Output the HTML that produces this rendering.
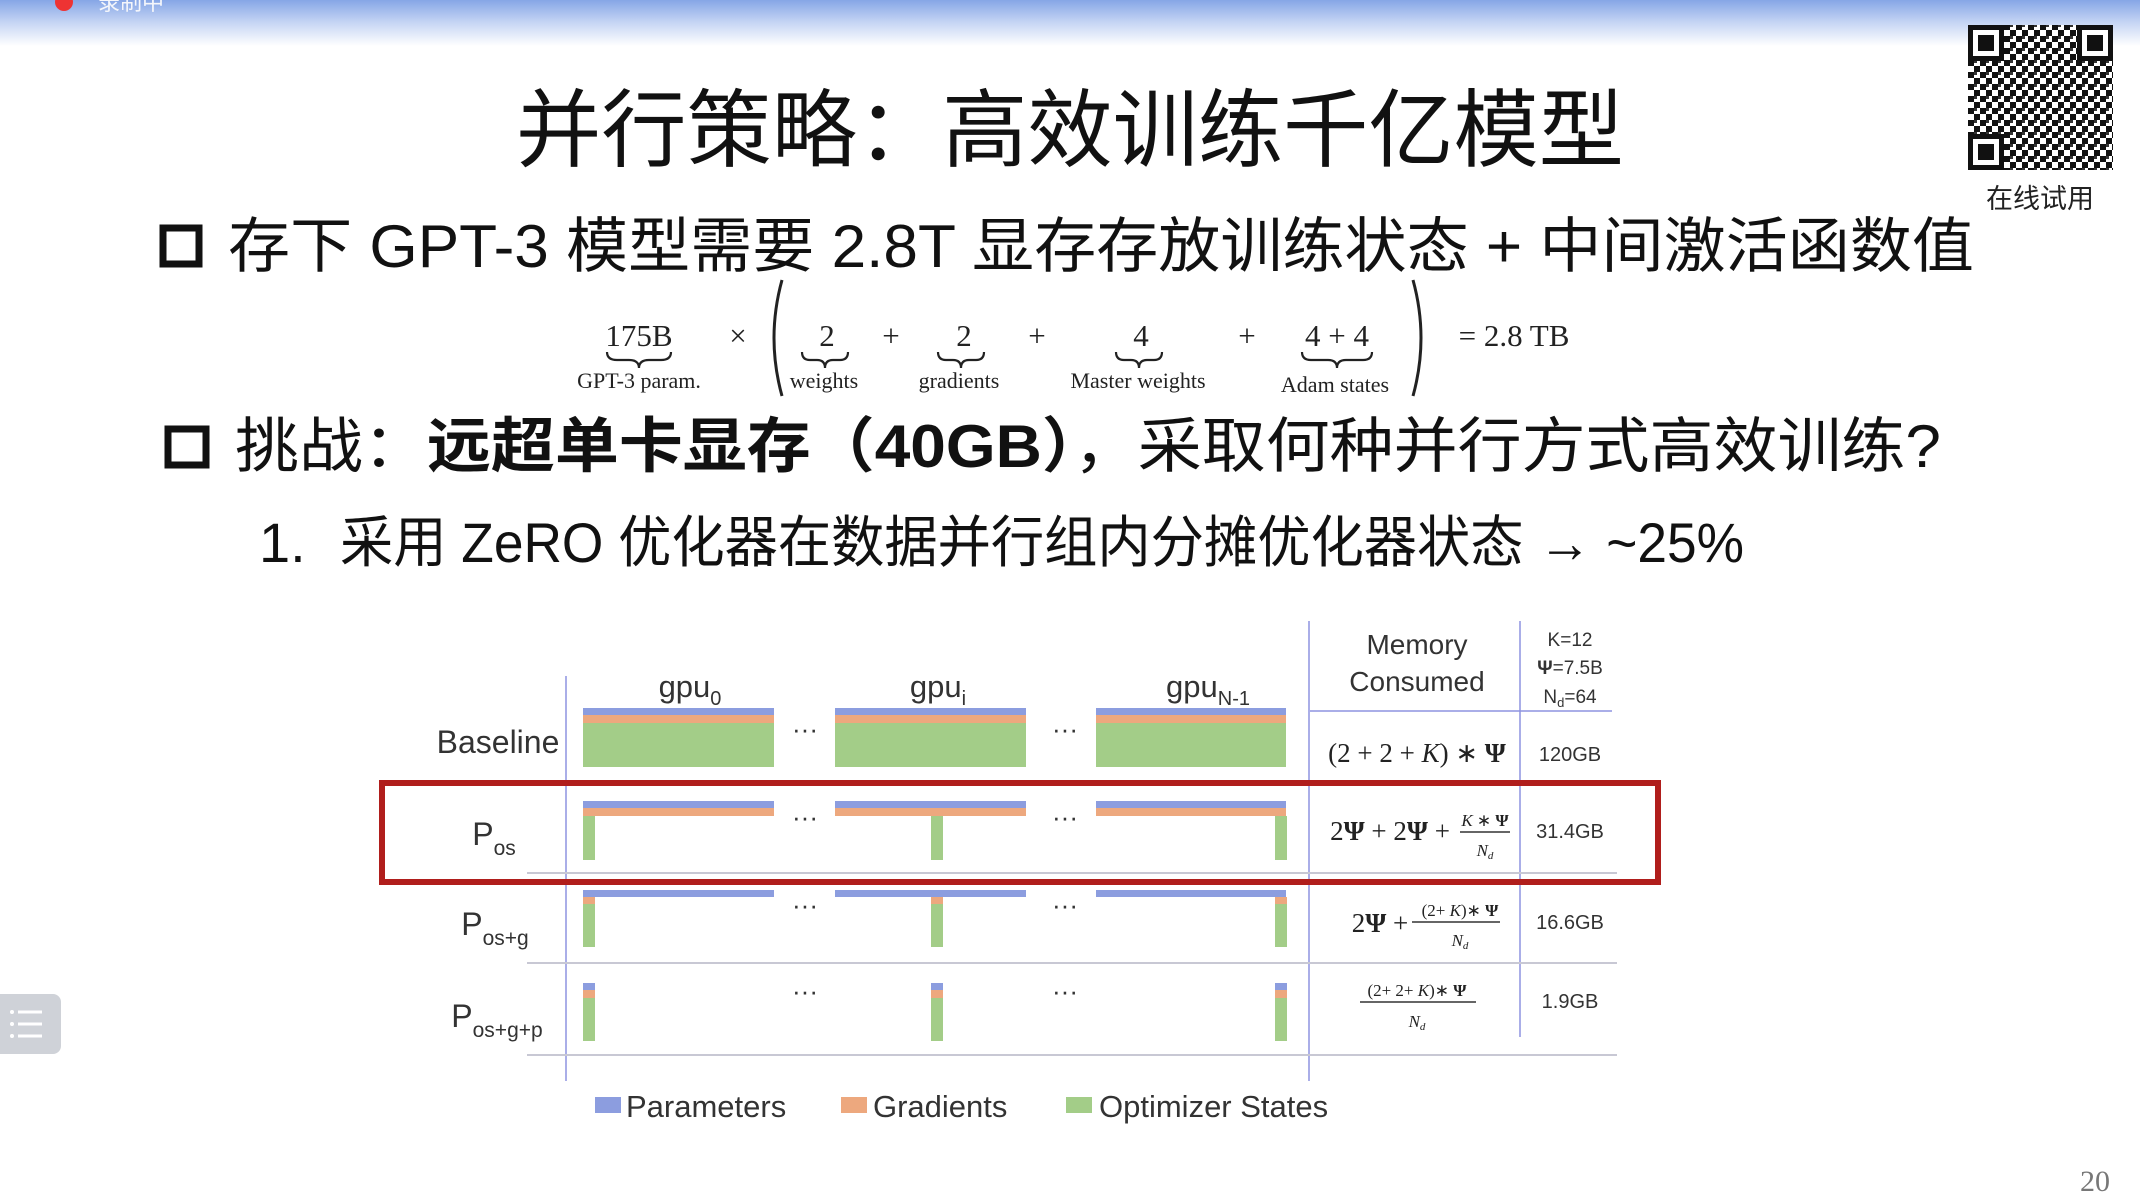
<!DOCTYPE html>
<html><head><meta charset="utf-8"><style>
html,body{margin:0;padding:0;background:#fff;width:2140px;height:1198px;overflow:hidden}
svg{display:block}
.cjk{font-family:"Liberation Sans","Noto Sans CJK SC",sans-serif;fill:#111}
.sf{font-family:"Liberation Serif",serif;fill:#222}
.ss{font-family:"Liberation Sans",sans-serif;fill:#333}
</style></head><body>
<svg width="2140" height="1198" viewBox="0 0 2140 1198" xmlns="http://www.w3.org/2000/svg">
<defs>
<linearGradient id="tb" x1="0" y1="0" x2="0" y2="1">
<stop offset="0" stop-color="#86a6e6"/><stop offset="0.5" stop-color="#c7d6f4"/><stop offset="1" stop-color="#ffffff"/>
</linearGradient>
<pattern id="qr" width="12" height="12" patternUnits="userSpaceOnUse">
<rect width="12" height="12" fill="#fff"/><rect x="0" y="0" width="6" height="6" fill="#111"/><rect x="6" y="6" width="6" height="6" fill="#111"/><rect x="6" y="0" width="3" height="3" fill="#333"/>
</pattern>
</defs>
<rect x="0" y="0" width="2140" height="46" fill="url(#tb)"/>
<circle cx="64" cy="2" r="9" fill="#e33"/>
<text x="98" y="10" class="cjk" font-size="22" style="fill:#f4f6fb">录制中</text>

<rect x="1968" y="25" width="145" height="145" fill="url(#qr)"/>
<g fill="#111">
<rect x="1968" y="25" width="36" height="36"/><rect x="2077" y="25" width="36" height="36"/><rect x="1968" y="134" width="36" height="36"/>
</g>
<g fill="#fff"><rect x="1973" y="30" width="26" height="26"/><rect x="2082" y="30" width="26" height="26"/><rect x="1973" y="139" width="26" height="26"/></g>
<g fill="#111"><rect x="1978" y="35" width="16" height="16"/><rect x="2087" y="35" width="16" height="16"/><rect x="1978" y="144" width="16" height="16"/></g>
<text x="2040" y="208" text-anchor="middle" class="cjk" font-size="27" style="fill:#222">在线试用</text>

<text x="516" y="160" class="cjk" font-size="85" textLength="1108" lengthAdjust="spacingAndGlyphs">并行策略：高效训练千亿模型</text>

<rect x="163" y="228" width="36" height="36" fill="none" stroke="#111" stroke-width="7"/>
<text x="228" y="267" class="cjk" font-size="60" textLength="1746" lengthAdjust="spacingAndGlyphs">存下 GPT-3 模型需要 2.8T 显存存放训练状态 + 中间激活函数值</text>

<g class="sf" font-size="31" text-anchor="middle">
<text x="639" y="346">175B</text>
<text x="738" y="346">×</text>
<text x="827" y="346">2</text>
<text x="891" y="346">+</text>
<text x="964" y="346">2</text>
<text x="1037" y="346">+</text>
<text x="1141" y="346">4</text>
<text x="1247" y="346">+</text>
<text x="1337" y="346">4 + 4</text>
<text x="1514" y="346">= 2.8 TB</text>
</g>
<g class="sf" font-size="22" text-anchor="middle">
<text x="639" y="388">GPT-3 param.</text>
<text x="824" y="388">weights</text>
<text x="959" y="388">gradients</text>
<text x="1138" y="388">Master weights</text>
<text x="1335" y="392">Adam states</text>
</g>
<g fill="none" stroke="#222" stroke-width="2.2">
<path d="M607 352 q0 8 10 8 h12 q10 0 10 8 q0 -8 10 -8 h12 q10 0 10 -8"/>
<path d="M802 352 q0 8 8 8 h7 q8 0 8 8 q0 -8 8 -8 h7 q8 0 8 -8"/>
<path d="M938 352 q0 8 8 8 h7 q8 0 8 8 q0 -8 8 -8 h7 q8 0 8 -8"/>
<path d="M1116 352 q0 8 8 8 h7 q8 0 8 8 q0 -8 8 -8 h7 q8 0 8 -8"/>
<path d="M1302 352 q0 8 9 8 h17 q9 0 9 8 q0 -8 9 -8 h17 q9 0 9 -8"/>
<path d="M782 280 q-16 58 0 116" stroke-width="3"/>
<path d="M1413 280 q16 58 0 116" stroke-width="3"/>
</g>

<rect x="168" y="429" width="38" height="36" fill="none" stroke="#111" stroke-width="7"/>
<text x="235" y="467" class="cjk" font-size="60" textLength="1706" lengthAdjust="spacingAndGlyphs">挑战：<tspan font-weight="bold">远超单卡显存（40GB）</tspan>，采取何种并行方式高效训练?</text>

<text x="259" y="562" class="cjk" font-size="56">1.</text>
<text x="340" y="562" class="cjk" font-size="56" textLength="1404" lengthAdjust="spacingAndGlyphs">采用 ZeRO 优化器在数据并行组内分摊优化器状态 → ~25%</text>

<g stroke="#8d93e0" stroke-width="1.5">
<line x1="566" y1="676" x2="566" y2="1081"/>
<line x1="1309" y1="621" x2="1309" y2="1081"/>
<line x1="1520" y1="621" x2="1520" y2="1037"/>
<line x1="1310" y1="711" x2="1612" y2="711"/>
</g>
<g stroke="#c8c8d4" stroke-width="2">
<line x1="527" y1="873" x2="1617" y2="873"/>
<line x1="527" y1="963" x2="1617" y2="963"/>
<line x1="527" y1="1055" x2="1617" y2="1055"/>
</g>

<g class="ss" font-size="31" text-anchor="middle">
<text x="690" y="697">gpu<tspan font-size="20" dy="8">0</tspan></text>
<text x="938" y="697">gpu<tspan font-size="20" dy="8">i</tspan></text>
<text x="1208" y="697">gpu<tspan font-size="20" dy="8">N-1</tspan></text>
<text x="1417" y="654" font-size="28">Memory</text>
<text x="1417" y="691" font-size="28">Consumed</text>
<text x="1570" y="646" font-size="19">K=12</text>
<text x="1570" y="674" font-size="19"><tspan font-weight="bold">Ψ</tspan>=7.5B</text>
<text x="1570" y="703" font-size="19">N<tspan font-size="13" dy="4">d</tspan><tspan dy="-4">=64</tspan></text>
</g>

<g class="ss" font-size="32" text-anchor="middle">
<text x="498" y="753">Baseline</text>
<text x="494" y="845">P<tspan font-size="21" dy="10">os</tspan></text>
<text x="495" y="935">P<tspan font-size="21" dy="10">os+g</tspan></text>
<text x="497" y="1027">P<tspan font-size="21" dy="10">os+g+p</tspan></text>
</g>

<g class="ss" font-size="26" text-anchor="middle">
<text x="805" y="738">···</text><text x="1065" y="738">···</text>
<text x="805" y="826">···</text><text x="1065" y="826">···</text>
<text x="805" y="914">···</text><text x="1065" y="914">···</text>
<text x="805" y="1000">···</text><text x="1065" y="1000">···</text>
</g>

<g>
<rect x="583" y="708" width="191" height="7" fill="#8c9ddf"/><rect x="583" y="715" width="191" height="8" fill="#eda87e"/><rect x="583" y="723" width="191" height="44" fill="#a3cd88"/>
<rect x="835" y="708" width="191" height="7" fill="#8c9ddf"/><rect x="835" y="715" width="191" height="8" fill="#eda87e"/><rect x="835" y="723" width="191" height="44" fill="#a3cd88"/>
<rect x="1096" y="708" width="190" height="7" fill="#8c9ddf"/><rect x="1096" y="715" width="190" height="8" fill="#eda87e"/><rect x="1096" y="723" width="190" height="44" fill="#a3cd88"/>
</g>
<g>
<rect x="583" y="801" width="191" height="7" fill="#8c9ddf"/><rect x="583" y="808" width="191" height="8" fill="#eda87e"/><rect x="583" y="816" width="12" height="44" fill="#a3cd88"/>
<rect x="835" y="801" width="191" height="7" fill="#8c9ddf"/><rect x="835" y="808" width="191" height="8" fill="#eda87e"/><rect x="931" y="816" width="12" height="44" fill="#a3cd88"/>
<rect x="1096" y="801" width="190" height="7" fill="#8c9ddf"/><rect x="1096" y="808" width="190" height="8" fill="#eda87e"/><rect x="1275" y="816" width="12" height="44" fill="#a3cd88"/>
</g>
<g>
<rect x="583" y="890" width="191" height="7" fill="#8c9ddf"/><rect x="583" y="897" width="12" height="7" fill="#eda87e"/><rect x="583" y="904" width="12" height="43" fill="#a3cd88"/>
<rect x="835" y="890" width="191" height="7" fill="#8c9ddf"/><rect x="931" y="897" width="12" height="7" fill="#eda87e"/><rect x="931" y="904" width="12" height="43" fill="#a3cd88"/>
<rect x="1096" y="890" width="190" height="7" fill="#8c9ddf"/><rect x="1275" y="897" width="12" height="7" fill="#eda87e"/><rect x="1275" y="904" width="12" height="43" fill="#a3cd88"/>
</g>
<g>
<rect x="583" y="983" width="12" height="7" fill="#8c9ddf"/><rect x="583" y="990" width="12" height="8" fill="#eda87e"/><rect x="583" y="998" width="12" height="43" fill="#a3cd88"/>
<rect x="931" y="983" width="12" height="7" fill="#8c9ddf"/><rect x="931" y="990" width="12" height="8" fill="#eda87e"/><rect x="931" y="998" width="12" height="43" fill="#a3cd88"/>
<rect x="1275" y="983" width="12" height="7" fill="#8c9ddf"/><rect x="1275" y="990" width="12" height="8" fill="#eda87e"/><rect x="1275" y="998" width="12" height="43" fill="#a3cd88"/>
</g>

<g class="sf" font-size="27" text-anchor="middle">
<text x="1417" y="762">(2 + 2 + <tspan font-style="italic">K</tspan>) ∗ <tspan font-weight="bold">Ψ</tspan></text>
<text x="1390" y="840">2<tspan font-weight="bold">Ψ</tspan> + 2<tspan font-weight="bold">Ψ</tspan> +</text>
<text x="1485" y="826" font-size="17"><tspan font-style="italic">K</tspan> ∗ <tspan font-weight="bold">Ψ</tspan></text>
<text x="1485" y="856" font-size="17" font-style="italic">N<tspan font-size="11" dy="3">d</tspan></text>
<text x="1380" y="932">2<tspan font-weight="bold">Ψ</tspan> +</text>
<text x="1460" y="916" font-size="17">(2+ <tspan font-style="italic">K</tspan>)∗ <tspan font-weight="bold">Ψ</tspan></text>
<text x="1460" y="946" font-size="17" font-style="italic">N<tspan font-size="11" dy="3">d</tspan></text>
<text x="1417" y="996" font-size="17">(2+ 2+ <tspan font-style="italic">K</tspan>)∗ <tspan font-weight="bold">Ψ</tspan></text>
<text x="1417" y="1027" font-size="17" font-style="italic">N<tspan font-size="11" dy="3">d</tspan></text>
</g>
<g stroke="#333" stroke-width="1.5">
<line x1="1460" y1="832" x2="1510" y2="832"/>
<line x1="1412" y1="922" x2="1500" y2="922"/>
<line x1="1360" y1="1002" x2="1476" y2="1002"/>
</g>
<g class="ss" font-size="20" text-anchor="middle">
<text x="1570" y="761">120GB</text>
<text x="1570" y="838">31.4GB</text>
<text x="1570" y="929">16.6GB</text>
<text x="1570" y="1008">1.9GB</text>
</g>

<rect x="382" y="783" width="1276" height="99" fill="none" stroke="#b01e1c" stroke-width="6"/>

<rect x="595" y="1097" width="26" height="16" fill="#8c9ddf"/>
<rect x="841" y="1097" width="26" height="16" fill="#eda87e"/>
<rect x="1066" y="1097" width="26" height="16" fill="#a3cd88"/>
<g class="ss" font-size="31">
<text x="626" y="1117">Parameters</text>
<text x="873" y="1117">Gradients</text>
<text x="1099" y="1117">Optimizer States</text>
</g>

<rect x="-10" y="994" width="71" height="60" rx="8" fill="#cfd2d8"/>
<g stroke="#fff" stroke-width="3">
<line x1="18" y1="1012" x2="42" y2="1012"/><line x1="18" y1="1024" x2="42" y2="1024"/><line x1="18" y1="1036" x2="42" y2="1036"/>
</g>
<g fill="#fff"><circle cx="12" cy="1012" r="2"/><circle cx="12" cy="1024" r="2"/><circle cx="12" cy="1036" r="2"/></g>

<text x="2095" y="1191" class="sf" font-size="30" text-anchor="middle" style="fill:#777">20</text>
</svg>
</body></html>
